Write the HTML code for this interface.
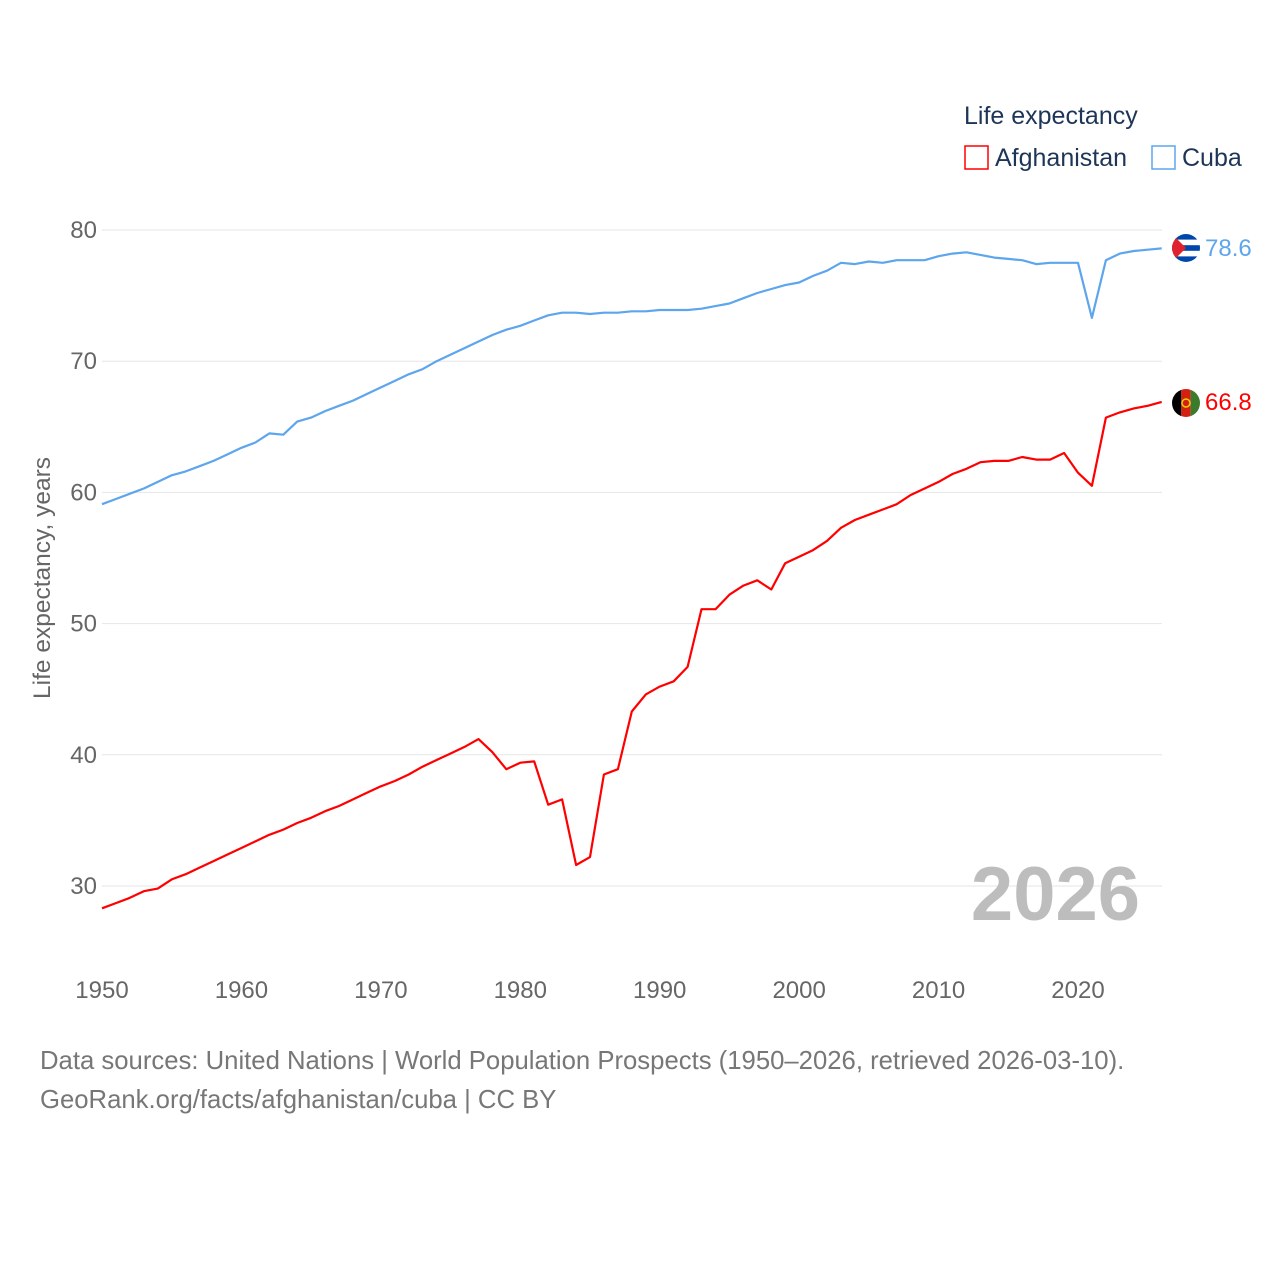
<!DOCTYPE html>
<html><head><meta charset="utf-8"><style>
html,body{margin:0;padding:0;background:#fff;}
svg text{font-family:"Liberation Sans",sans-serif;}
</style></head><body>
<svg width="1280" height="1280" viewBox="0 0 1280 1280">
<g id="grid"></g>
<g id="yticks"></g>
<g id="xticks"></g>
<text x="50" y="578" transform="rotate(-90 50 578)" text-anchor="middle" font-size="24.5" fill="#666">Life expectancy, years</text>
<text x="1140" y="920" text-anchor="end" font-size="76" font-weight="bold" fill="#bdbdbd">2026</text>
<g>
<text x="964" y="124" font-size="25" fill="#1d3557">Life expectancy</text>
<rect x="965" y="146" width="23" height="23" fill="none" stroke="#ff0000" stroke-width="1.5"/>
<text x="995" y="166" font-size="25" fill="#1d3557">Afghanistan</text>
<rect x="1152" y="146" width="23" height="23" fill="none" stroke="#5da5ed" stroke-width="1.5"/>
<text x="1182" y="166" font-size="25" fill="#1d3557">Cuba</text>
</g>
<g id="series"></g>
<g>
<clipPath id="cc"><circle cx="1186" cy="248" r="14"/></clipPath>
<g clip-path="url(#cc)"><rect x="1172" y="234" width="28" height="28" fill="#fff"/>
<rect x="1172" y="234" width="28" height="5.6" fill="#0047ab"/><rect x="1172" y="245.2" width="28" height="5.6" fill="#0047ab"/><rect x="1172" y="256.4" width="28" height="5.6" fill="#0047ab"/>
<polygon points="1172,234 1186,248 1172,262" fill="#e0212e"/></g>
</g>
<g>
<clipPath id="ca"><circle cx="1186" cy="403" r="14"/></clipPath>
<g clip-path="url(#ca)"><rect x="1172" y="389" width="9.3" height="28" fill="#000"/><rect x="1181.3" y="389" width="9.4" height="28" fill="#d32011"/><rect x="1190.7" y="389" width="9.3" height="28" fill="#3c7a2c"/>
<circle cx="1186" cy="403" r="4" fill="none" stroke="#f0d000" stroke-width="1.5"/></g>
</g>
<text x="1205" y="256" font-size="24" fill="#5da5ed">78.6</text>
<text x="1205" y="410" font-size="24" fill="#ff0000">66.8</text>
<text x="40" y="1069" font-size="25.7" fill="#777">Data sources: United Nations | World Population Prospects (1950–2026, retrieved 2026-03-10).</text>
<text x="40" y="1108" font-size="25.7" fill="#777">GeoRank.org/facts/afghanistan/cuba | CC BY</text>
</svg>
<script>
const startYear = 1950;
const yTicks = [30, 40, 50, 60, 70, 80];
const xTicks = [1950, 1960, 1970, 1980, 1990, 2000, 2010, 2020];
const cuba = [59.1,59.5,59.9,60.3,60.8,61.3,61.6,62.0,62.4,62.9,63.4,63.8,64.5,64.4,65.4,65.7,66.2,66.6,67.0,67.5,68.0,68.5,69.0,69.4,70.0,70.5,71.0,71.5,72.0,72.4,72.7,73.1,73.5,73.7,73.7,73.6,73.7,73.7,73.8,73.8,73.9,73.9,73.9,74.0,74.2,74.4,74.8,75.2,75.5,75.8,76.0,76.5,76.9,77.5,77.4,77.6,77.5,77.7,77.7,77.7,78.0,78.2,78.3,78.1,77.9,77.8,77.7,77.4,77.5,77.5,77.5,73.3,77.7,78.2,78.4,78.5,78.6];
const afghanistan = [28.3,28.7,29.1,29.6,29.8,30.5,30.9,31.4,31.9,32.4,32.9,33.4,33.9,34.3,34.8,35.2,35.7,36.1,36.6,37.1,37.6,38.0,38.5,39.1,39.6,40.1,40.6,41.2,40.2,38.9,39.4,39.5,36.2,36.6,31.6,32.2,38.5,38.9,43.3,44.6,45.2,45.6,46.7,51.1,51.1,52.2,52.9,53.3,52.6,54.6,55.1,55.6,56.3,57.3,57.9,58.3,58.7,59.1,59.8,60.3,60.8,61.4,61.8,62.3,62.4,62.4,62.7,62.5,62.5,63.0,61.5,60.5,65.7,66.1,66.4,66.6,66.9];

const NS = "http://www.w3.org/2000/svg";
function xs(year){ return 102 + (year - 1950) * (976 / 70); }
function ys(v){ return 230 + (80 - v) * (656 / 50); }

const grid = document.getElementById('grid');
const yt = document.getElementById('yticks');
yTicks.forEach(t => {
  const l = document.createElementNS(NS, 'line');
  l.setAttribute('x1', 102); l.setAttribute('x2', 1162);
  l.setAttribute('y1', ys(t)); l.setAttribute('y2', ys(t));
  l.setAttribute('stroke', '#e6e6e6'); l.setAttribute('stroke-width', 1);
  
  
  grid.appendChild(l);
  const tx = document.createElementNS(NS, 'text');
  tx.setAttribute('x', 97); tx.setAttribute('y', ys(t) + 8);
  tx.setAttribute('text-anchor', 'end'); tx.setAttribute('font-size', 24); tx.setAttribute('fill', '#666');
  tx.textContent = t;
  
  
  yt.appendChild(tx);
});
const xt = document.getElementById('xticks');
xTicks.forEach(t => {
  const tx = document.createElementNS(NS, 'text');
  tx.setAttribute('x', xs(t)); tx.setAttribute('y', 998);
  tx.setAttribute('text-anchor', 'middle'); tx.setAttribute('font-size', 24); tx.setAttribute('fill', '#666');
  tx.textContent = t;
  
  
  xt.appendChild(tx);
});
const series = document.getElementById('series');
function drawLine(vals, color, name){
  const p = document.createElementNS(NS, 'path');
  p.setAttribute('d', vals.map((v, i) => (i ? 'L' : 'M') + xs(startYear + i).toFixed(1) + ',' + ys(v).toFixed(1)).join(''));
  p.setAttribute('fill', 'none'); p.setAttribute('stroke', color); p.setAttribute('stroke-width', 2.2);
  p.setAttribute('stroke-linejoin', 'round');
  
  
  series.appendChild(p);
}
drawLine(cuba, '#5da5ed', 'cuba-line');
drawLine(afghanistan, '#ff0000', 'afghanistan-line');
</script>
</body></html>
